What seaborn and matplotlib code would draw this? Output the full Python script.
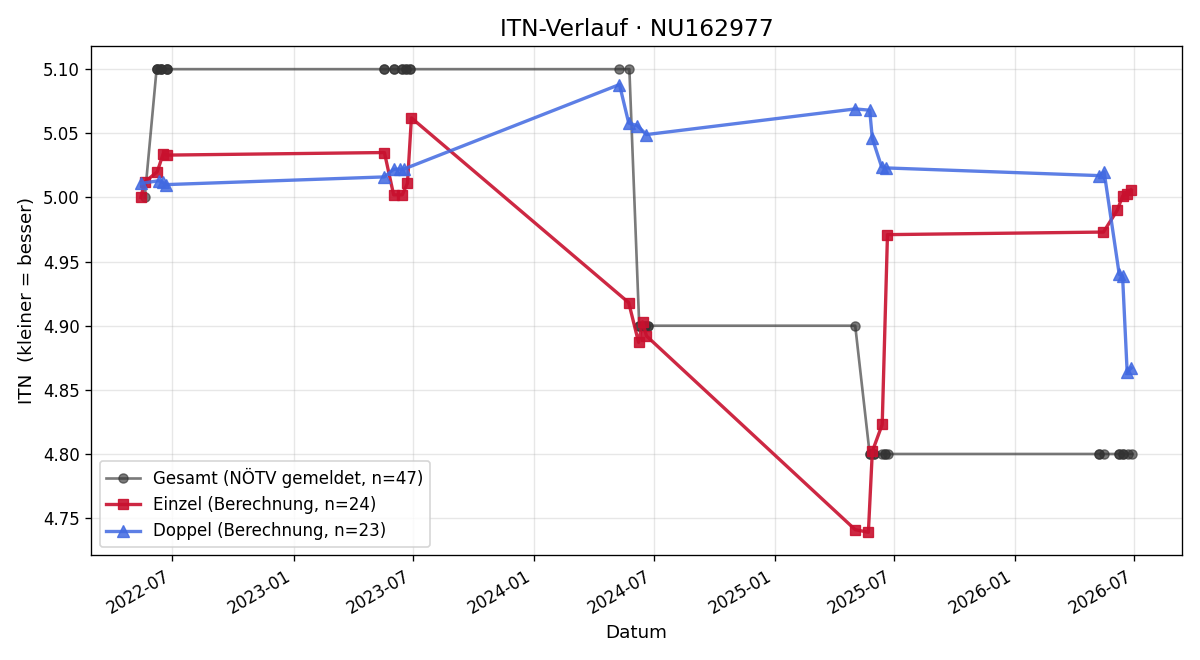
import matplotlib
matplotlib.use("Agg")
import matplotlib.dates as mdates
import matplotlib.pyplot as plt
import pandas as pd
import seaborn as sns

# Gesamt (NÖTV gemeldet)
gesamt_dates = [
    "2022-05-20", "2022-06-07", "2022-06-07", "2022-06-07", "2022-06-14", "2022-06-14",
    "2022-06-14", "2022-06-23", "2022-06-23", "2022-06-23",
    "2023-05-19", "2023-05-19", "2023-06-02", "2023-06-02", "2023-06-15", "2023-06-15",
    "2023-06-21", "2023-06-21", "2023-06-27", "2023-06-27",
    "2024-05-10", "2024-05-25", "2024-06-09", "2024-06-09", "2024-06-17", "2024-06-17",
    "2024-06-17", "2024-06-23", "2024-06-23",
    "2025-05-03", "2025-05-25", "2025-05-25", "2025-06-01", "2025-06-01", "2025-06-12",
    "2025-06-18", "2025-06-18", "2025-06-22",
    "2026-05-09", "2026-05-09", "2026-05-16", "2026-06-07", "2026-06-07", "2026-06-14",
    "2026-06-14", "2026-06-22", "2026-06-28",
]
gesamt_itn = [
    5.00, 5.10, 5.10, 5.10, 5.10, 5.10, 5.10, 5.10, 5.10, 5.10,
    5.10, 5.10, 5.10, 5.10, 5.10, 5.10, 5.10, 5.10, 5.10, 5.10,
    5.10, 5.10, 4.90, 4.90, 4.90, 4.90, 4.90, 4.90, 4.90,
    4.90, 4.80, 4.80, 4.80, 4.80, 4.80, 4.80, 4.80, 4.80,
    4.80, 4.80, 4.80, 4.80, 4.80, 4.80, 4.80, 4.80, 4.80,
]

# Einzel (Berechnung)
einzel_dates = [
    "2022-05-14", "2022-05-20", "2022-06-08", "2022-06-17", "2022-06-23",
    "2023-05-19", "2023-06-02", "2023-06-15", "2023-06-23", "2023-06-29",
    "2024-05-24", "2024-06-08", "2024-06-14", "2024-06-20",
    "2025-05-03", "2025-05-23", "2025-05-29", "2025-06-13", "2025-06-21",
    "2026-05-15", "2026-06-05", "2026-06-13", "2026-06-20", "2026-06-26",
]
einzel_itn = [
    5.000, 5.012, 5.020, 5.034, 5.033,
    5.035, 5.002, 5.002, 5.011, 5.062,
    4.918, 4.887, 4.903, 4.892,
    4.741, 4.739, 4.802, 4.823, 4.971,
    4.973, 4.990, 5.001, 5.003, 5.006,
]

# Doppel (Berechnung)
doppel_dates = [
    "2022-05-15", "2022-06-10", "2022-06-16", "2022-06-22",
    "2023-05-19", "2023-06-02", "2023-06-11", "2023-06-17",
    "2024-05-10", "2024-05-24", "2024-06-06", "2024-06-20",
    "2025-05-03", "2025-05-25", "2025-05-29", "2025-06-12", "2025-06-19",
    "2026-05-09", "2026-05-16", "2026-06-08", "2026-06-13", "2026-06-20", "2026-06-26",
]
doppel_itn = [
    5.011, 5.013, 5.012, 5.010,
    5.016, 5.022, 5.022, 5.022,
    5.088, 5.058, 5.056, 5.049,
    5.069, 5.068, 5.046, 5.024, 5.023,
    5.017, 5.020, 4.940, 4.939, 4.864, 4.867,
]

spieler = "NU162977"

gesamt = pd.DataFrame({"Datum": pd.to_datetime(gesamt_dates), "ITN": gesamt_itn})
einzel = pd.DataFrame({"Datum": pd.to_datetime(einzel_dates), "ITN": einzel_itn})
doppel = pd.DataFrame({"Datum": pd.to_datetime(doppel_dates), "ITN": doppel_itn})

fig, ax = plt.subplots(figsize=(10, 5.5), dpi=120)

sns.lineplot(data=gesamt, x="Datum", y="ITN", ax=ax, estimator=None, errorbar=None,
             color="#333333", alpha=0.65, linewidth=1.6, marker="o", markersize=5.5,
             markeredgecolor="#333333", markeredgewidth=0.8,
             label=f"Gesamt (NÖTV gemeldet, n={len(gesamt)})")
sns.lineplot(data=einzel, x="Datum", y="ITN", ax=ax, estimator=None, errorbar=None,
             color="#c8102e", alpha=0.9, linewidth=2.0, marker="s", markersize=6.5,
             markeredgecolor="#c8102e", markeredgewidth=0.8,
             label=f"Einzel (Berechnung, n={len(einzel)})")
sns.lineplot(data=doppel, x="Datum", y="ITN", ax=ax, estimator=None, errorbar=None,
             color="#4169e1", alpha=0.85, linewidth=2.0, marker="^", markersize=7,
             markeredgecolor="#4169e1", markeredgewidth=0.8,
             label=f"Doppel (Berechnung, n={len(doppel)})")

ax.set_title(f"ITN-Verlauf · {spieler}", fontsize=14)
ax.set_xlabel("Datum", fontsize=11)
ax.set_ylabel("ITN  (kleiner = besser)", fontsize=11)
ax.tick_params(labelsize=10)
ax.xaxis.set_major_locator(mdates.MonthLocator(bymonth=[1, 7]))
ax.xaxis.set_major_formatter(mdates.DateFormatter("%Y-%m"))
ax.yaxis.set_major_formatter(matplotlib.ticker.FormatStrFormatter("%.2f"))
ax.grid(True, alpha=0.3)
ax.legend(loc="lower left", fontsize=10)
fig.autofmt_xdate()

fig.tight_layout()
fig.savefig("out.png", dpi=120)
